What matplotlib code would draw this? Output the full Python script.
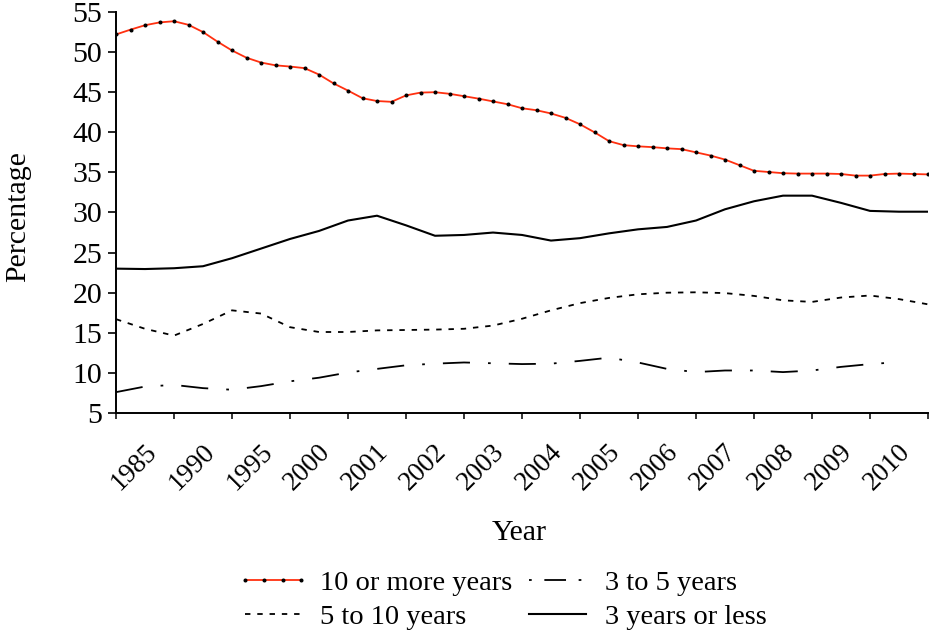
import numpy as np
import matplotlib
matplotlib.use("Agg")
import matplotlib.pyplot as plt
import matplotlib.transforms as mtransforms
from matplotlib.lines import Line2D

# Category labels on the x axis
years = ["1985", "1990", "1995", "2000", "2001", "2002", "2003",
         "2004", "2005", "2006", "2007", "2008", "2009", "2010"]

# Values, every quarter of a category (10 or more years)
ten_plus = [52.2, 52.8, 53.35, 53.7, 53.85, 53.4, 52.5, 51.3, 50.2, 49.3,
            48.7, 48.35, 48.2, 48.0, 47.2, 46.1, 45.2, 44.25, 43.9, 43.8,
            44.6, 44.95, 45.0, 44.8, 44.5, 44.2, 43.85, 43.5, 43.0, 42.75,
            42.35, 41.8, 41.0, 40.0, 38.9, 38.4, 38.25, 38.15, 38.0, 37.9,
            37.5, 37.1, 36.6, 35.9, 35.2, 35.05, 34.9, 34.85, 34.85, 34.85,
            34.8, 34.6, 34.6, 34.8, 34.85, 34.8, 34.75]

# Values every half category for the other series
five_ten = [16.7, 15.5, 14.65, 16.1, 17.8, 17.4, 15.7, 15.1, 15.1, 15.3,
            15.35, 15.4, 15.5, 15.9, 16.75, 17.8, 18.7, 19.35, 19.8, 20.0,
            20.05, 19.95, 19.6, 19.05, 18.85, 19.4, 19.65, 19.2, 18.55]

three_five = [7.6, 8.3, 8.5, 8.1, 7.9, 8.35, 8.95, 9.4, 10.05, 10.5,
              10.95, 11.15, 11.3, 11.2, 11.1, 11.15, 11.5, 11.9, 11.3, 10.5,
              10.1, 10.3, 10.3, 10.1, 10.3, 10.75, 11.1, 11.35]

three_less = [23.0, 22.95, 23.05, 23.3, 24.3, 25.5, 26.7, 27.7, 29.0, 29.6,
              28.4, 27.1, 27.2, 27.5, 27.2, 26.5, 26.8, 27.4, 27.9, 28.2,
              29.0, 30.4, 31.4, 32.1, 32.1, 31.2, 30.2, 30.1, 30.1]

labels = ["10 or more years", "5 to 10 years", "3 to 5 years", "3 years or less"]

# x positions in category units (axis runs 0..14)
pos_q = np.arange(len(ten_plus)) * 0.25
pos_h = np.arange(len(five_ten)) * 0.5

plt.rcParams["font.family"] = ["Liberation Serif", "DejaVu Serif"]

fig = plt.figure(figsize=(9.31, 6.34), dpi=100)
ax = fig.add_axes([116 / 931, 1 - 413 / 634, 812 / 931, 401 / 634])

red_line, = ax.plot(pos_q, ten_plus, color="#ff3010", lw=1.3, marker="o",
                    markersize=1.9, markerfacecolor="black",
                    markeredgecolor="black")
dash_line, = ax.plot(pos_h, five_ten, color="black", lw=1.3,
                     linestyle=(0, (3.0, 3.8)))
dashdot_line, = ax.plot(pos_h[:len(three_five)], three_five, color="black",
                        lw=1.3, linestyle=(0, (15, 10, 1.5, 10)))
solid_line, = ax.plot(pos_h, three_less, color="black", lw=1.5)

ax.set_xlim(0, 14)
ax.set_ylim(5, 55)
ax.set_yticks(range(5, 56, 5))

# year labels sit between the tick marks
ax.set_xticks(np.arange(len(years)) + 0.5)
ax.set_xticklabels(years, rotation=45, ha="right", va="top",
                   rotation_mode="anchor")
ax.set_xticks(np.arange(len(years) + 1), minor=True)
ax.tick_params(axis="x", which="major", length=0, pad=19, labelsize=19.5)
ax.tick_params(axis="x", which="minor", length=4, width=1.1, direction="out")
ax.tick_params(axis="y", length=6, width=1.2, direction="out", pad=4,
               labelsize=21.5)
shift = mtransforms.ScaledTranslation(-0.01, 0, fig.dpi_scale_trans)
for lab in ax.get_xticklabels():
    lab.set_transform(lab.get_transform() + shift)

for side in ["top", "right"]:
    ax.spines[side].set_visible(False)
for side in ["left", "bottom"]:
    ax.spines[side].set_linewidth(1.4)

fig.text(18 / 931, 1 - 217 / 634, "Percentage", rotation=90,
         ha="center", va="center", fontsize=21.5)
fig.text(519 / 931, 1 - 533 / 634, "Year", ha="center", va="center",
         fontsize=21.5)

# legend proxy for the dash-dot line so the sample starts with a dot
dashdot_key = Line2D([], [], color="black", lw=1.3,
                     linestyle=(0, (1.5, 7, 12, 7)))

fig.legend([red_line, dash_line, dashdot_key, solid_line], labels,
           ncol=2, loc="upper left", bbox_to_anchor=(236 / 931, 1 - 570 / 634),
           frameon=False, fontsize=20.5, numpoints=4, handlelength=2.6,
           handletextpad=0.35, columnspacing=0.3, labelspacing=0.28,
           borderpad=0, borderaxespad=0)

fig.savefig("out.png", dpi=100)
